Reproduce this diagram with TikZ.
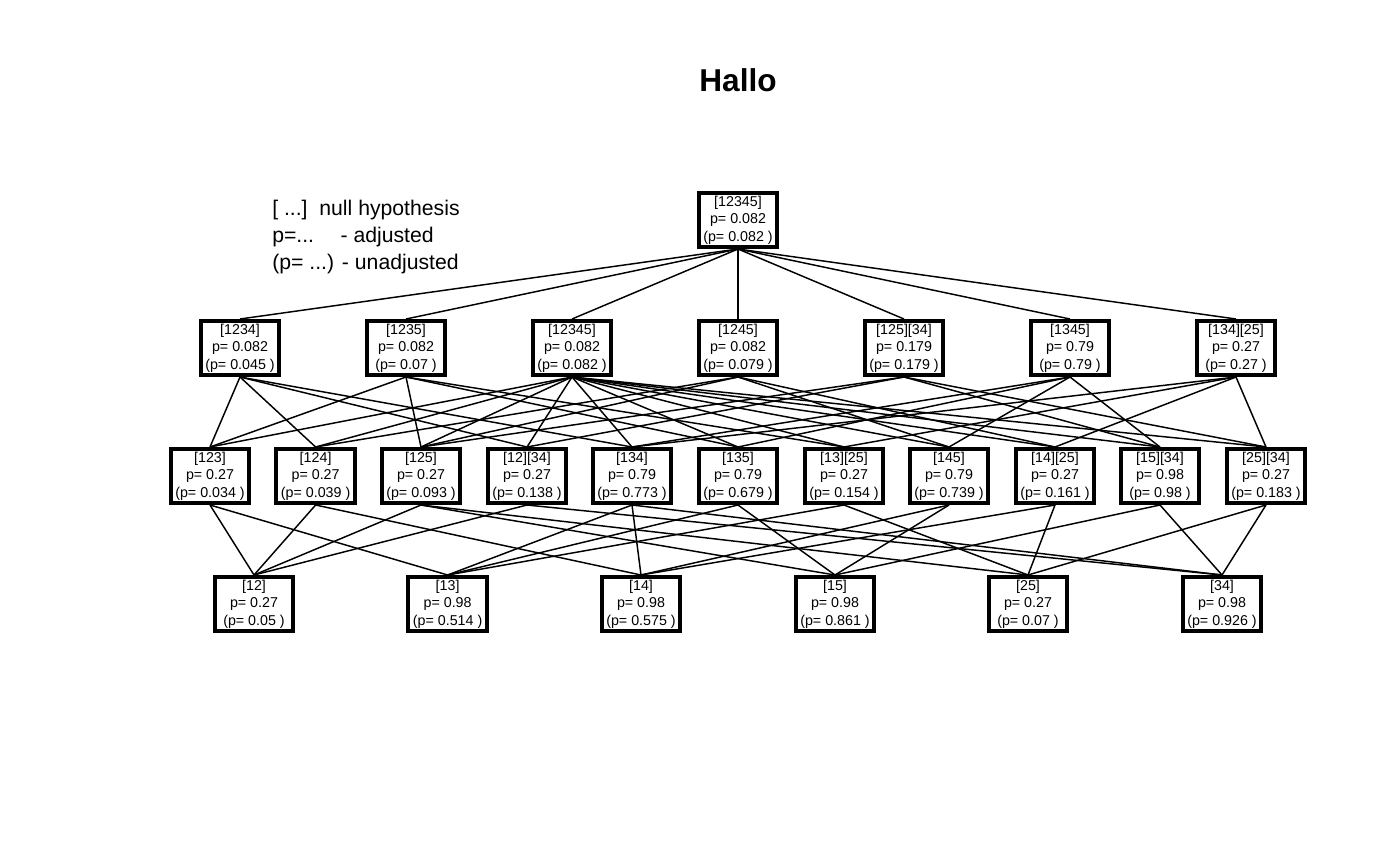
\documentclass[tikz,border=0pt]{standalone}
\usepackage{fontspec}
\setmainfont{Liberation Sans}
\newcommand{\drawhyp}[6]{
	\node[hyp] (#1) at (#2,#3) {[#4]\\p= #5\\(p= #6 )};
}
\newcommand{\drawlinks}[2]{
	\foreach \c in {#2} {
		\draw[link] (#1.south) -- (\c.north);
	}
}

\begin{document}
\begin{tikzpicture}[x=0.75pt,y=-0.75pt,
	hyp/.style={draw, line width=3pt, fill=white, minimum width=59pt, minimum height=40.5pt, inner sep=0pt, align=center, font=\fontsize{10.7}{13.1}\selectfont},
	link/.style={line width=1.1pt}]
	\useasboundingbox (0,0) rectangle (1400,865);
	\node[anchor=base, font=\bfseries\fontsize{23.7}{28}\selectfont] (title) at (738,91) {Hallo};
	\node[anchor=west, inner sep=0pt, align=left, font=\fontsize{15.9}{20.6}\selectfont] (legend) at (272,237)
		{[ ...]\ \ null hypothesis\\p=...\hspace{1.25em}- adjusted\\(p= ...) - unadjusted};
	\drawhyp{htop}{738}{220}{12345}{0.082}{0.082}
	\drawhyp{h1234}{240}{348}{1234}{0.082}{0.045}
	\drawhyp{h1235}{406}{348}{1235}{0.082}{0.07}
	\drawhyp{h12345}{572}{348}{12345}{0.082}{0.082}
	\drawhyp{h1245}{738}{348}{1245}{0.082}{0.079}
	\drawhyp{h125x34}{904}{348}{125][34}{0.179}{0.179}
	\drawhyp{h1345}{1070}{348}{1345}{0.79}{0.79}
	\drawhyp{h134x25}{1236}{348}{134][25}{0.27}{0.27}
	\drawhyp{h123}{210}{476}{123}{0.27}{0.034}
	\drawhyp{h124}{315.6}{476}{124}{0.27}{0.039}
	\drawhyp{h125}{421}{476}{125}{0.27}{0.093}
	\drawhyp{h12x34}{527}{476}{12][34}{0.27}{0.138}
	\drawhyp{h134}{632}{476}{134}{0.79}{0.773}
	\drawhyp{h135}{738}{476}{135}{0.79}{0.679}
	\drawhyp{h13x25}{844}{476}{13][25}{0.27}{0.154}
	\drawhyp{h145}{949}{476}{145}{0.79}{0.739}
	\drawhyp{h14x25}{1055}{476}{14][25}{0.27}{0.161}
	\drawhyp{h15x34}{1160}{476}{15][34}{0.98}{0.98}
	\drawhyp{h25x34}{1266}{476}{25][34}{0.27}{0.183}
	\drawhyp{h12}{254}{604}{12}{0.27}{0.05}
	\drawhyp{h13}{447.6}{604}{13}{0.98}{0.514}
	\drawhyp{h14}{641}{604}{14}{0.98}{0.575}
	\drawhyp{h15}{835}{604}{15}{0.98}{0.861}
	\drawhyp{h25}{1028}{604}{25}{0.27}{0.07}
	\drawhyp{h34}{1222}{604}{34}{0.98}{0.926}
	\drawlinks{htop}{h1234,h1235,h12345,h1245,h125x34,h1345,h134x25}
	\drawlinks{h1234}{h123,h124,h12x34,h134}
	\drawlinks{h1235}{h123,h125,h135,h13x25}
	\drawlinks{h12345}{h123,h124,h125,h12x34,h134,h135,h13x25,h145,h14x25,h15x34,h25x34}
	\drawlinks{h1245}{h124,h125,h145,h14x25}
	\drawlinks{h125x34}{h125,h12x34,h15x34,h25x34}
	\drawlinks{h1345}{h134,h135,h145,h15x34}
	\drawlinks{h134x25}{h134,h13x25,h14x25,h25x34}
	\drawlinks{h123}{h12,h13}
	\drawlinks{h124}{h12,h14}
	\drawlinks{h125}{h12,h15,h25}
	\drawlinks{h12x34}{h12,h34}
	\drawlinks{h134}{h13,h14,h34}
	\drawlinks{h135}{h13,h15}
	\drawlinks{h13x25}{h13,h25}
	\drawlinks{h145}{h14,h15}
	\drawlinks{h14x25}{h14,h25}
	\drawlinks{h15x34}{h15,h34}
	\drawlinks{h25x34}{h25,h34}
\end{tikzpicture}
\end{document}
